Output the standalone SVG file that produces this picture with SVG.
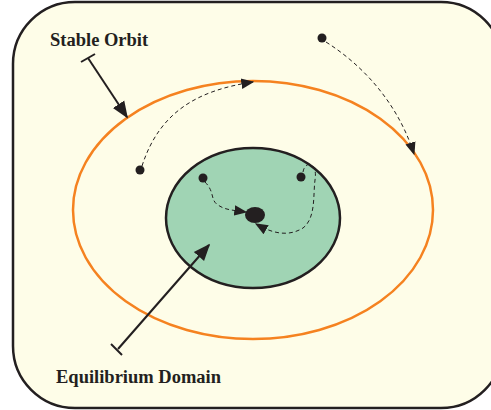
<svg xmlns="http://www.w3.org/2000/svg" width="491" height="410" viewBox="0 0 491 410">
<defs>
<style>
.lbl{font-family:"Liberation Serif","Times New Roman",serif;font-weight:bold;font-size:18.5px;fill:#231f20}
.dash{fill:none;stroke:#231f20;stroke-width:1;stroke-dasharray:4,3}
.lead{fill:none;stroke:#231f20;stroke-width:2}
.dot{fill:#231f20}
</style>
<marker id="ah" viewBox="0 0 10 10" refX="9" refY="5" markerWidth="13" markerHeight="13" markerUnits="userSpaceOnUse" orient="auto"><path d="M0,1 L10,5 L0,9 Z" fill="#231f20"/></marker>
<marker id="ahb" viewBox="0 0 10 10" refX="9" refY="5" markerWidth="17" markerHeight="17" markerUnits="userSpaceOnUse" orient="auto"><path d="M0,1 L10,5 L0,9 Z" fill="#231f20"/></marker>
</defs>
<rect x="0" y="0" width="491" height="410" fill="#ffffff"/>
<g id="outer"><rect x="13" y="2" width="490" height="406" rx="62" ry="62" fill="#fefde8" stroke="#231f20" stroke-width="2.5"/></g>
<g id="stable-orbit"><ellipse cx="253" cy="210" rx="180" ry="129" fill="none" stroke="#f58220" stroke-width="2.5"/></g>
<g id="equilibrium-domain"><ellipse cx="253" cy="218" rx="87" ry="70" fill="#a0d4b4" stroke="#231f20" stroke-width="2.5"/></g>
<g id="points">
<circle class="dot" cx="140" cy="170" r="4.5"/>
<circle class="dot" cx="203" cy="178" r="4.5"/>
<circle class="dot" cx="301" cy="177" r="4.5"/>
<circle class="dot" cx="322" cy="38" r="4.5"/>
<ellipse class="dot" cx="255" cy="215" rx="10" ry="8"/>
</g>
<g id="connectors">
<path class="dash" d="M142,166 C160,110 200,90 253,82" marker-end="url(#ah)"/>
<path class="dash" d="M326,42 C370,70 400,110 414,154" marker-end="url(#ah)"/>
<path class="dash" d="M205,182 C215,192 210,200 218,205 C225,210 232,210 246,212" marker-end="url(#ah)"/>
<path class="dash" d="M303,172 C305,160 318,162 315,180 C313,195 316,218 303,228 C290,236 275,235 256,224" marker-end="url(#ah)"/>
<path class="lead" d="M88,58 L127,117" marker-end="url(#ahb)"/>
<path class="lead" d="M81,62 L95,54"/>
<path class="lead" d="M118,349 L209,245" marker-end="url(#ahb)"/>
<path class="lead" d="M111,344 L122,355"/>
</g>
<g id="labels">
<text class="lbl" x="50" y="46">Stable Orbit</text>
<text class="lbl" x="56" y="383">Equilibrium Domain</text>
</g>
</svg>
